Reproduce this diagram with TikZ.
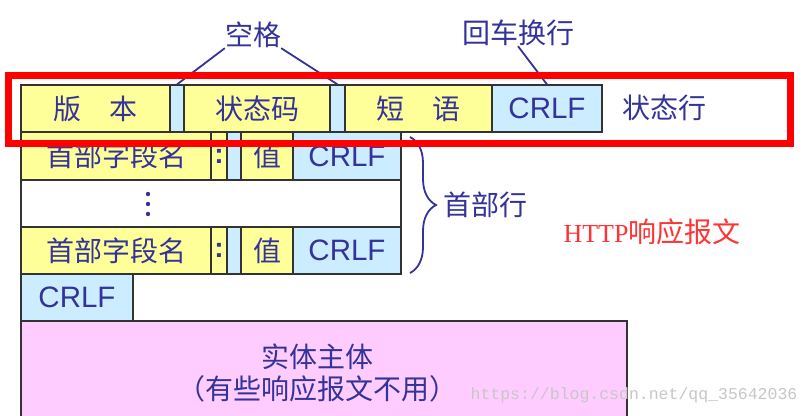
\documentclass[tikz,border=0pt]{standalone}
\usepackage{fontspec}
\setmainfont{Liberation Serif}
\newfontfamily\cjk{Noto Sans CJK SC}
\newfontfamily\arial{Liberation Sans}
\newfontfamily\mono{Liberation Mono}
\usetikzlibrary{decorations.pathreplacing}
\definecolor{inkblue}{RGB}{51,51,153}
\definecolor{celly}{RGB}{255,255,153}
\definecolor{cellb}{RGB}{204,236,255}
\definecolor{cellp}{RGB}{255,204,255}
\definecolor{boxred}{RGB}{255,0,0}
\definecolor{titlered}{RGB}{255,51,51}

\begin{document}
\begin{tikzpicture}[x=1pt, y=-1pt,
  cell/.style={draw=black!80, line width=1.2pt, minimum height=47pt, inner sep=0pt,
               text=inkblue, font=\cjk\fontsize{28}{30}\selectfont},
  yel/.style={cell, fill=celly},
  blu/.style={cell, fill=cellb},
  crlf/.style={cell, fill=cellb, font=\arial\fontsize{29.5}{30}\selectfont},
  lbl/.style={text=inkblue, font=\cjk\fontsize{28}{30}\selectfont, inner sep=0pt},
  ptr/.style={draw=inkblue, line width=1.8pt},
]
\clip (0,0) rectangle (810,415);
\fill[white] (0,0) rectangle (810,415);

% Status line
\node[yel, minimum width=149pt] (ver) at (95.5,108.5) {版　本};
\node[blu, minimum width=14pt] (sp1) at (177,108.5) {};
\node[yel, minimum width=146pt] (code) at (257,108.5) {状态码};
\node[blu, minimum width=15pt] (sp2) at (337.5,108.5) {};
\node[yel, minimum width=147pt] (phrase) at (418.5,108.5) {短　语};
\node[crlf, minimum width=110pt] (crlf0) at (547,108.5) {CRLF};
\node[lbl] (statlbl) at (664,108) {状态行};

% Labels above
\node[lbl] (space) at (253,35) {空格};
\node[lbl] (crlbl) at (518,33) {回车换行};
\draw[ptr] (space.south west) -- (sp1.north);
\draw[ptr] (space.south east) -- (sp2.north);
\draw[ptr] (crlbl.south) -- (crlf0.north);

% Header lines
\node[yel, minimum width=190pt] (namea) at (116,156) {首部字段名};
\node[yel, minimum width=16pt, font=\arial\bfseries\fontsize{28}{30}\selectfont] (cola) at (219,156) {:};
\node[blu, minimum width=14pt] (spa) at (234,156) {};
\node[yel, minimum width=52pt] (vala) at (267,156) {值};
\node[crlf, minimum width=108pt] (crlfa) at (347,156) {CRLF};
\node[cell, minimum width=380pt] (gap) at (211,203.5) {};
\foreach \y in {194,204,214}
  \fill[inkblue] (148,\y) circle (2.2pt);
\node[yel, minimum width=190pt] (nameb) at (116,250.5) {首部字段名};
\node[yel, minimum width=16pt, font=\arial\bfseries\fontsize{28}{30}\selectfont] (colb) at (219,250.5) {:};
\node[blu, minimum width=14pt] (spb) at (234,250.5) {};
\node[yel, minimum width=52pt] (valb) at (267,250.5) {值};
\node[crlf, minimum width=108pt] (crlfb) at (347,250.5) {CRLF};

% Brace
\coordinate (btop) at (410,137);
\coordinate (bbot) at (410,273);
\draw[ptr, decorate, decoration={brace, amplitude=26pt}] (btop) -- (bbot);
\node[lbl] (headlbl) at (485,205) {首部行};

% Empty line and body
\node[crlf, minimum width=112pt] (crlfend) at (77,297.5) {CRLF};
\node[cell, fill=cellp, minimum width=606pt, minimum height=118pt] (body) at (324,380) {};
\node[lbl, align=center, font=\cjk\fontsize{28}{32}\selectfont] (bodytxt) at (317,373)
  {实体主体\\（有些响应报文不用）};

% Title and watermark
\node[text=titlered, inner sep=0pt] (title) at (652,232)
  {{\fontsize{26}{30}\selectfont HTTP}{\cjk\fontsize{28}{30}\selectfont 响应报文}};
\node[text=black!22, inner sep=0pt, font=\mono\fontsize{16.5}{18}\selectfont] (mark) at (634,395)
  {https://blog.csdn.net/qq\_35642036};

% Status line frame
\node[draw=boxred, line width=7pt, minimum width=782pt, minimum height=68pt, inner sep=0pt] (statframe) at (399,109) {};
\end{tikzpicture}
\end{document}
